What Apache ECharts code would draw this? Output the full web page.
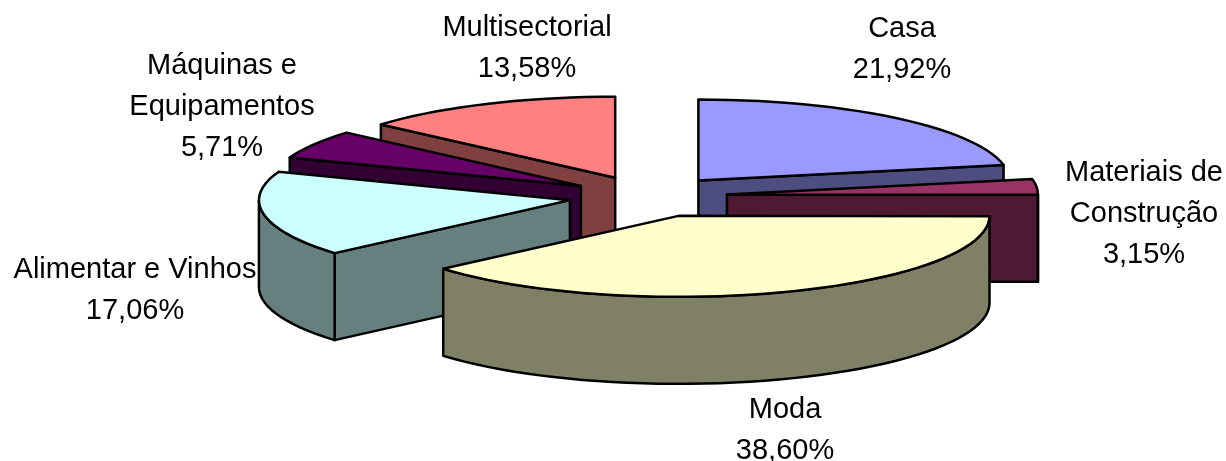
<!DOCTYPE html>
<html>
<head>
<meta charset="utf-8">
<style>
    html, body { margin: 0; padding: 0; background: #fff; }
    #main { width: 1226px; height: 461px; }
</style>
<script src="https://cdn.jsdelivr.net/npm/echarts@6/dist/echarts.min.js"></script>
</head>
<body>
<div id="main"></div>
<script>
    // valores, sentido horario a partir das 12h
    var categories = ['Casa', 'Materiais de\nConstrução', 'Moda', 'Alimentar e Vinhos', 'Máquinas e\nEquipamentos', 'Multisectorial'];
    var shares = [21.92, 3.15, 38.60, 17.06, 5.71, 13.58];
    var topColors = ['#9999FF', '#993366', '#FFFFCC', '#CCFFFF', '#660066', '#FF8080'];
    var sideColors = ['#4D4D80', '#4D1A33', '#808066', '#668080', '#330033', '#804040'];
    var labelAnchors = [[902, 8], [1144, 152], [785, 389], [135, 249], [222, 45], [527, 7]];

    // geometria do "3D"
    var cx = 648, cy = 196.5, rx = 311, ry = 81, depth = 87, explode = 0.255;
    var nudgeX = [0, 0, 3, 0, 1, 0]; // Moda sai um pouco mais para a direita

    var total = shares.reduce(function (a, b) { return a + b; }, 0);
    var acc = 0;
    var slices = shares.map(function (v, i) {
        var a0 = acc / total * Math.PI * 2;
        acc += v;
        var a1 = acc / total * Math.PI * 2;
        var mid = (a0 + a1) / 2;
        return {
            index: i, a0: a0, a1: a1,
            ox: cx + explode * rx * Math.sin(mid) + nudgeX[i],
            oy: cy - explode * ry * Math.cos(mid)
        };
    });
    // desenha de tras para a frente
    var drawOrder = slices.slice().sort(function (a, b) { return a.oy - b.oy; }).map(function (s) { return s.index; });

    function rim(s, a) {
        return [s.ox + rx * Math.sin(a), s.oy - ry * Math.cos(a)];
    }
    function arcPoints(s, a0, a1) {
        var n = Math.max(2, Math.ceil((a1 - a0) / 0.05)), pts = [];
        for (var i = 0; i <= n; i++) {
            pts.push(rim(s, a0 + (a1 - a0) * i / n));
        }
        return pts;
    }
    function down(p) {
        return [p[0], p[1] + depth];
    }
    function poly(points, fill) {
        return {
            type: 'polygon',
            shape: {points: points},
            style: {fill: fill, stroke: '#000', lineWidth: 2.5, lineJoin: 'round'}
        };
    }

    function renderSlice(params, api) {
        var s = slices[api.value(0)];
        var side = sideColors[s.index], children = [];
        var apex = [s.ox, s.oy];
        // faces de corte visiveis
        if (Math.sin(s.a0) < -0.001) {
            var p0 = rim(s, s.a0);
            children.push(poly([apex, p0, down(p0), down(apex)], side));
        }
        if (Math.sin(s.a1) > 0.001) {
            var p1 = rim(s, s.a1);
            children.push(poly([apex, p1, down(p1), down(apex)], side));
        }
        // parede exterior, so a metade da frente
        var w0 = Math.max(s.a0, Math.PI / 2), w1 = Math.min(s.a1, Math.PI * 1.5);
        if (w1 > w0) {
            var arc = arcPoints(s, w0, w1);
            children.push(poly(arc.concat(arc.map(down).reverse()), side));
        }
        children.push(poly([apex].concat(arcPoints(s, s.a0, s.a1)), topColors[s.index]));
        return {type: 'group', children: children};
    }

    var labels = categories.map(function (name, i) {
        return {
            type: 'text',
            x: labelAnchors[i][0],
            y: labelAnchors[i][1],
            silent: true,
            style: {
                text: name + '\n' + shares[i].toFixed(2).replace('.', ',') + '%',
                font: '29px "Liberation Sans", Arial, sans-serif',
                fill: '#000',
                align: 'center',
                verticalAlign: 'top',
                lineHeight: 41
            }
        };
    });

    var myChart = echarts.init(document.getElementById('main'));
    myChart.setOption({
        animation: false,
        backgroundColor: '#fff',
        graphic: labels,
        series: [{
            type: 'custom',
            coordinateSystem: 'none',
            silent: true,
            renderItem: renderSlice,
            data: drawOrder.map(function (i) { return [i]; })
        }]
    });
</script>
</body>
</html>
